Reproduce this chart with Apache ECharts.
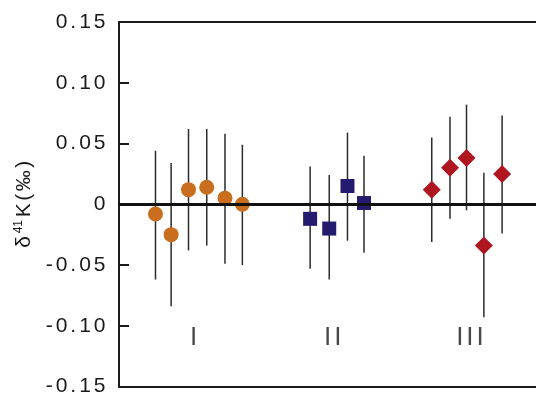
<!DOCTYPE html>
<html>
<head>
<meta charset="utf-8">
<script src="https://cdn.jsdelivr.net/npm/echarts@6/dist/echarts.min.js"></script>
<style>
  html, body { margin: 0; padding: 0; background: #fff; }
  #chart { width: 536px; height: 397px; }
</style>
</head>
<body>
<div id="chart"></div>
<script>
// sample positions along the x axis (slot units) and δ41K values with error ranges
var xI = [2.1, 3.0, 4.0, 5.05, 6.1, 7.1];
var valI = [-0.008, -0.025, 0.012, 0.014, 0.005, 0.0];
var lowI = [-0.062, -0.084, -0.038, -0.034, -0.049, -0.050];
var highI = [0.044, 0.034, 0.062, 0.062, 0.058, 0.049];

var xII = [11.0, 12.1, 13.15, 14.1];
var valII = [-0.012, -0.020, 0.015, 0.001];
var lowII = [-0.053, -0.062, -0.030, -0.040];
var highII = [0.031, 0.024, 0.059, 0.040];

var xIII = [18.0, 19.05, 20.0, 21.0, 22.05];
var valIII = [0.012, 0.030, 0.038, -0.034, 0.025];
var lowIII = [-0.031, -0.012, -0.005, -0.093, -0.024];
var highIII = [0.055, 0.072, 0.082, 0.026, 0.073];

var groupNames = ['I', 'II', 'III'];
var groupLabelX = [4.3, 12.3, 20.2];
var groupLabelY = -0.110;

function pts(xs, vs) {
  return xs.map(function (x, i) { return [x, vs[i]]; });
}
function bars(xs, lo, hi) {
  return xs.map(function (x, i) { return [x, lo[i], hi[i]]; });
}
// wrap every character in its own rich fragment so it can be letter-spaced
function spaced(str, style) {
  return str.split('').map(function (c) { return '{' + style + '|' + c + '}'; }).join('');
}
var allBars = bars(xI, lowI, highI).concat(bars(xII, lowII, highII), bars(xIII, lowIII, highIII));

var chart = echarts.init(document.getElementById('chart'));
var fontFam = '"Liberation Sans", Arial, sans-serif';
var ink = '#1a1a1a';

var option = {
  animation: false,
  backgroundColor: '#fff',
  grid: { left: 119, top: 22, bottom: 9, right: -4, containLabel: false },
  xAxis: [
    {
      type: 'value', min: 0, max: 24, position: 'bottom',
      axisLine: { show: true, onZero: false, lineStyle: { color: ink, width: 2 } },
      axisTick: { show: false }, axisLabel: { show: false }, splitLine: { show: false }
    },
    {
      type: 'value', min: 0, max: 24, position: 'top',
      axisLine: { show: true, onZero: false, lineStyle: { color: ink, width: 2 } },
      axisTick: { show: false }, axisLabel: { show: false }, splitLine: { show: false }
    }
  ],
  yAxis: {
    type: 'value', min: -0.15, max: 0.15, interval: 0.05,
    axisLine: { show: true, onZero: false, lineStyle: { color: ink, width: 2 } },
    axisTick: { show: true, inside: true, length: 10, lineStyle: { color: ink, width: 2 } },
    splitLine: { show: false },
    axisLabel: {
      margin: 12,
      formatter: function (v) {
        var r = Math.round(v * 100) / 100;
        return spaced(r === 0 ? '0' : r.toFixed(2), 'd');
      },
      rich: {
        d: { fontSize: 21, color: ink, fontFamily: fontFam, padding: [0, 1.5, 0, 1.5] }
      }
    },
    name: spaced('δ', 'a') + '{s|41}' + spaced('K(‰)', 'a'),
    nameLocation: 'middle',
    nameRotate: 90,
    nameGap: 84,
    nameTextStyle: {
      rich: {
        a: { fontSize: 21, color: ink, fontFamily: fontFam, padding: [0, 1.25, 0, 1.25] },
        s: { fontSize: 12, color: ink, fontFamily: fontFam, verticalAlign: 'top', padding: [0, 1.5, 10, 1.5] }
      }
    }
  },
  series: [
    {
      type: 'custom',
      z: 1,
      data: allBars,
      renderItem: function (params, api) {
        var a = api.coord([api.value(0), api.value(1)]);
        var b = api.coord([api.value(0), api.value(2)]);
        return {
          type: 'line',
          shape: { x1: a[0], y1: a[1], x2: b[0], y2: b[1] },
          style: { stroke: '#2b2b2b', lineWidth: 1.5 }
        };
      },
      markLine: {
        silent: true, symbol: 'none', label: { show: false },
        lineStyle: { color: '#111', width: 3, type: 'solid' },
        data: [{ yAxis: 0 }]
      }
    },
    {
      type: 'scatter', z: 3, symbol: 'circle', symbolSize: 15,
      itemStyle: { color: '#C86E1E', opacity: 1 },
      data: pts(xI, valI)
    },
    {
      type: 'scatter', z: 3, symbol: 'rect', symbolSize: 14,
      itemStyle: { color: '#241A6E', opacity: 1 },
      data: pts(xII, valII)
    },
    {
      type: 'scatter', z: 3, symbol: 'diamond', symbolSize: [18, 18],
      itemStyle: { color: '#B0161F', opacity: 1 },
      data: pts(xIII, valIII)
    },
    {
      type: 'scatter', z: 3, symbolSize: 0, silent: true,
      label: {
        show: true, position: 'inside',
        formatter: function (p) { return spaced(groupNames[p.dataIndex], 'g'); },
        rich: {
          g: { fontSize: 26, color: ink, fontFamily: fontFam, padding: [0, 1.5, 0, 1.5] }
        }
      },
      data: groupLabelX.map(function (x) { return [x, groupLabelY]; })
    }
  ]
};

chart.setOption(option);
</script>
</body>
</html>
